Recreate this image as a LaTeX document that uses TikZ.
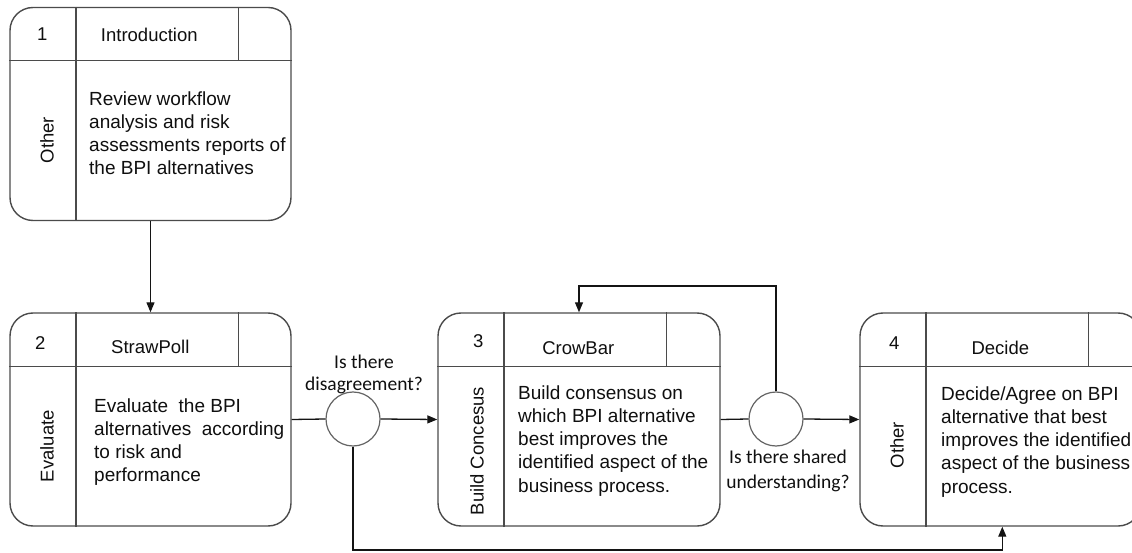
\documentclass[tikz,border=0pt]{standalone}
\usepackage{fontspec}
\setmainfont{Liberation Sans}
\newfontfamily\calib{Carlito}
\usetikzlibrary{arrows.meta,calc}
\definecolor{linec}{RGB}{75,75,75}
\definecolor{connc}{RGB}{20,20,20}
\definecolor{circc}{RGB}{100,100,100}
\definecolor{txtc}{RGB}{15,15,15}
\begin{document}
\begin{tikzpicture}[x=1pt,y=-1pt,
  frame/.style={draw=linec, line width=1.4pt, rounded corners=23pt, minimum width=281pt, minimum height=213pt, inner sep=0pt},
  inner/.style={draw=linec, line width=1.4pt},
  hdr/.style={anchor=base, inner sep=0pt, text=txtc, font=\fontsize{18.5}{22}\selectfont},
  vert/.style={rotate=90, inner sep=0pt, text=txtc, font=\fontsize{18.5}{22}\selectfont},
  body/.style={anchor=base west, inner sep=0pt, text=txtc},
  lbl/.style={anchor=base, inner sep=0pt, text=txtc},
  dec/.style={circle, draw=circc, line width=1.2pt, minimum size=54pt, inner sep=0pt},
  conn/.style={draw=connc, line width=1.3pt},
  arr/.style={conn, -{Triangle[length=10pt,width=8pt]}}]
\useasboundingbox (0,0) rectangle (1132,553);

% boxes
\node[frame] (b1) at (150.5,114) {};
\node[frame] (b2) at (150.5,419.5) {};
\node[frame, minimum width=282pt] (b3) at (579,419.5) {};
\node[frame] (b4) at (1000.5,419.5) {};

\foreach \b in {b1,b2,b3,b4}{
  \draw[inner] ($(\b.north west)+(0,54)$) -- ($(\b.north east)+(0,54)$);
  \draw[inner] ($(\b.north west)+(66.5,0)$) -- ($(\b.south west)+(66.5,0)$);
  \draw[inner] ($(\b.north west)+(229,0)$) -- ($(\b.north west)+(229,54)$);
}

% header texts
\node[hdr] (n1) at ($(b1.north west)+(33,34)$) {1};
\node[hdr] (t1) at ($(b1.north west)+(140,35)$) {Introduction};
\node[hdr] (n2) at ($(b2.north west)+(31,37)$) {2};
\node[hdr] (t2) at ($(b2.north west)+(141,41)$) {StrawPoll};
\node[hdr] (n3) at ($(b3.north west)+(41,35)$) {3};
\node[hdr] (t3) at ($(b3.north west)+(141,42)$) {CrowBar};
\node[hdr] (n4) at ($(b4.north west)+(35,37)$) {4};
\node[hdr] (t4) at ($(b4.north west)+(141,42)$) {Decide};

% vertical texts
\node[vert] (v1) at (47,140) {Other};
\node[vert] (v2) at (47,446) {Evaluate};
\node[vert] (v3) at (477,451) {Build Concesus};
\node[vert] (v4) at (897,445) {Other};

% body texts
\node[body] (x1) at (89,106) {\parbox[t]{260pt}{\fontsize{19}{23}\selectfont Review workflow\\analysis and risk\\assessments reports of\\the BPI alternatives}};
\node[body] (x2) at (94,412) {\parbox[t]{260pt}{\fontsize{19}{23.3}\selectfont Evaluate\ \ the BPI\\alternatives\ \ according\\to risk and\\performance}};
\node[body] (x3) at (518,399) {\parbox[t]{260pt}{\fontsize{19}{23.3}\selectfont Build consensus on\\which BPI alternative\\best improves the\\identified aspect of the\\business process.}};
\node[body] (x4) at (941,400) {\parbox[t]{260pt}{\fontsize{19}{23.3}\selectfont Decide/Agree on BPI\\alternative that best\\improves the identified\\aspect of the business\\process.}};

% decision circles
\node[dec] (c1) at (353,419) {};
\node[dec] (c2) at (776,419) {};

% labels
\node[lbl] (l1) at (364,368) {\parbox[t]{160pt}{\centering\calib\fontsize{19.5}{22}\selectfont Is there\\disagreement?}};
\node[lbl] (l2) at (788,463) {\parbox[t]{160pt}{\centering\calib\fontsize{19.5}{25}\selectfont Is there shared\\understanding?}};

% connectors
\coordinate (fb) at (579,286);
\coordinate (bt) at (353,550);
\draw[arr] (b1.south) -- (b2.north);
\draw[conn] (b2.east) -- (c1.west);
\draw[arr] (c1.east) -- (b3.west);
\draw[conn] (b3.east) -- (c2.west);
\draw[arr] (c2.east) -- (b4.west);
\draw[arr] (c2.north) |- (fb) -- (b3.north);
\draw[arr] (c1.south) -- (bt) -| ($(b4.south west)+(143,0)$);
\end{tikzpicture}
\end{document}
